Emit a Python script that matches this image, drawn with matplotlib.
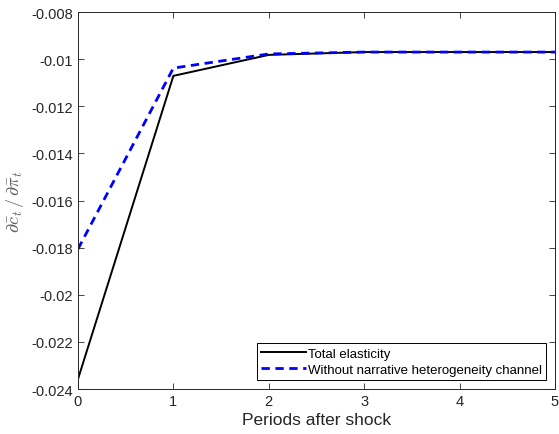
import matplotlib.pyplot as plt
import numpy as np

# data
periods = [0, 1, 2, 3, 4, 5]
total = [-0.02358, -0.01071, -0.00982, -0.00970, -0.00970, -0.00970]
no_narr = [-0.01806, -0.01038, -0.00978, -0.00970, -0.00970, -0.00970]
yticks = [-0.024, -0.022, -0.02, -0.018, -0.016, -0.014, -0.012, -0.01, -0.008]
ytick_labels = ['-0.024', '-0.022', '-0.02', '-0.018', '-0.016', '-0.014', '-0.012', '-0.01', '-0.008']

plt.rcParams['font.family'] = ['Liberation Sans', 'DejaVu Sans']
plt.rcParams['mathtext.fontset'] = 'cm'

grey = '#262626'
fig = plt.figure(figsize=(5.59, 4.35), dpi=100)
ax = fig.add_axes([0.1395, 0.1034, 0.8533, 0.8667])

ax.plot(periods, total, color='black', lw=1.4, label='Total elasticity')
ax.plot(periods, no_narr, color='blue', lw=2.0, ls=(0, (3, 2)),
        label='Without narrative heterogeneity channel')

ax.set_xlim(0, 5)
ax.set_ylim(-0.024, -0.008)
ax.set_xticks(periods)
ax.set_yticks(yticks)
ax.set_yticklabels(ytick_labels)
ax.tick_params(direction='in', top=True, right=True, labelsize=10.5, colors=grey,
               length=4, width=0.6)
for s in ax.spines.values():
    s.set_color(grey)
    s.set_linewidth(0.7)

ax.set_xlabel('Periods after shock', fontsize=12.5, color=grey, labelpad=3)
ax.set_ylabel(r'$\partial\bar{c}_t\,/\,\partial\bar{\pi}_t$', fontsize=13, color='#606060')

leg = ax.legend(loc='lower right', fontsize=9.5, fancybox=False, framealpha=1,
                edgecolor='black', handlelength=3.4, borderpad=0.3,
                labelspacing=0.3, handletextpad=0.15, borderaxespad=0.7)
leg.get_frame().set_linewidth(0.7)

fig.savefig('out.png', dpi=100)
